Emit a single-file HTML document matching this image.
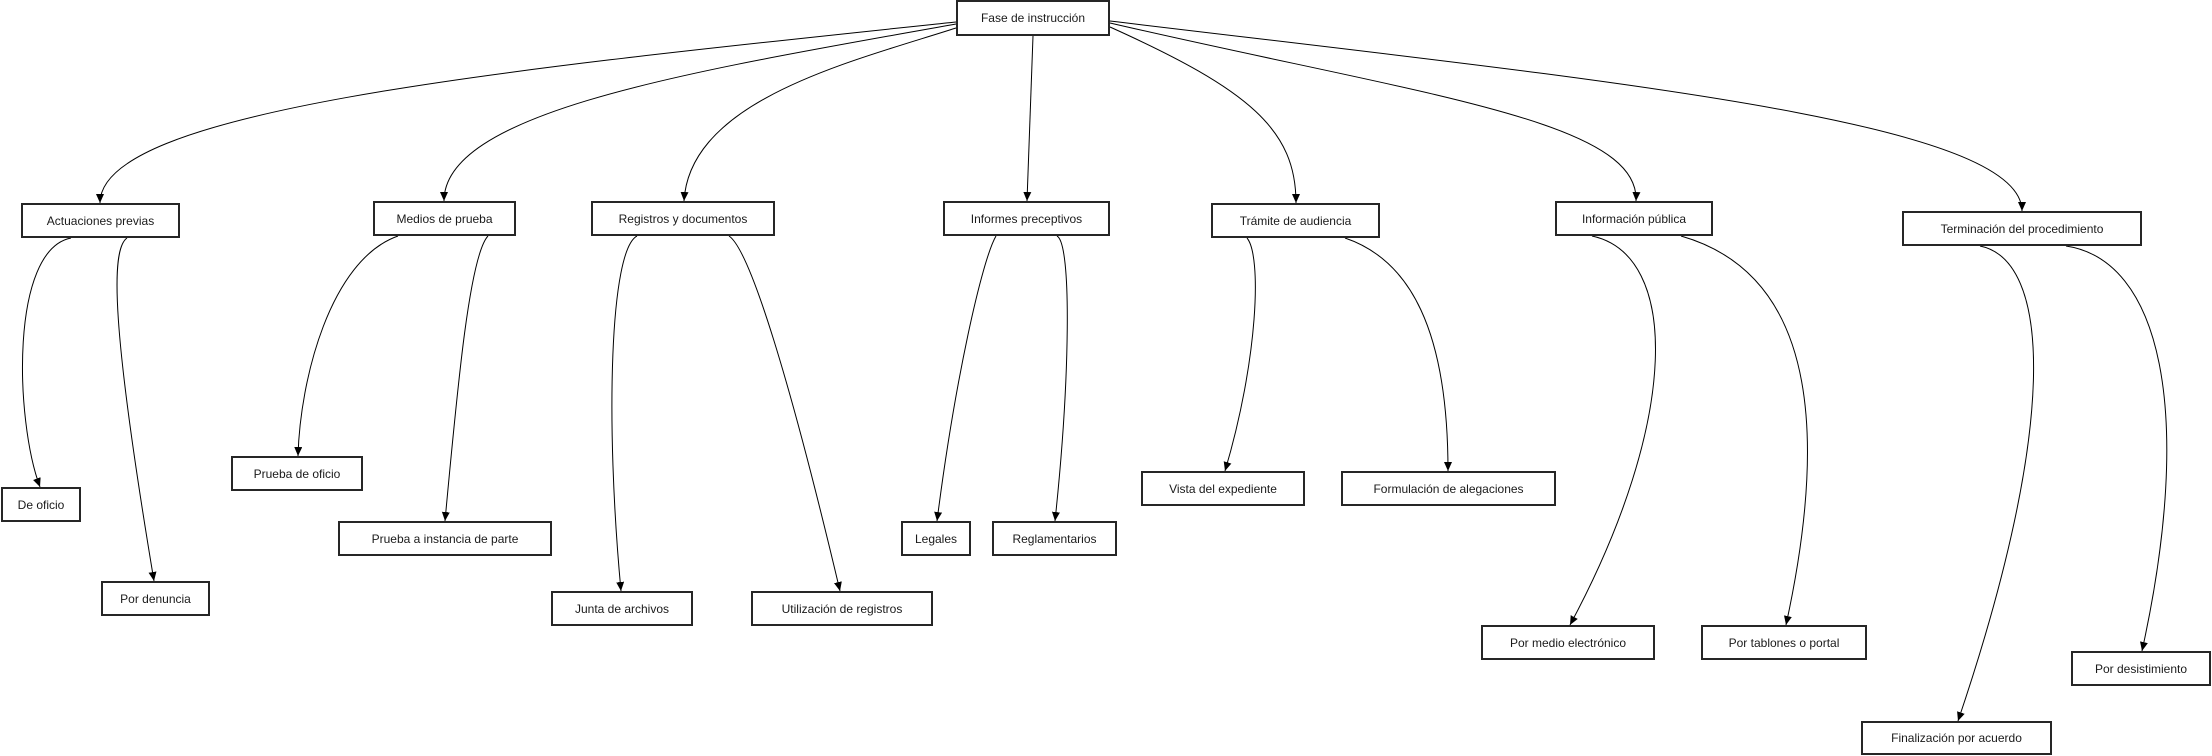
<!DOCTYPE html>
<html>
<head>
<meta charset="utf-8">
<style>
  html, body { margin: 0; padding: 0; background: #ffffff; }
  body { width: 2212px; height: 756px; overflow: hidden; }
  svg { display: block; }
  text { font-family: "Liberation Sans", Arial, sans-serif; font-size: 12px; fill: #1a1a1a; }
  .box { fill: #ffffff; stroke: #262626; stroke-width: 2; }
  .edge { fill: none; stroke: #000000; stroke-width: 1; }
</style>
</head>
<body>
<svg width="2212" height="756" viewBox="0 0 2212 756" xmlns="http://www.w3.org/2000/svg">
  <defs>
    <marker id="arr" markerUnits="userSpaceOnUse" markerWidth="10" markerHeight="10" refX="9" refY="4" orient="auto">
      <path d="M0,0 L9,4 L0,8 z" fill="#000"/>
    </marker>
  </defs>

  <!-- Top-level edges -->
  <path class="edge" marker-end="url(#arr)" d="M956,22 C500,70 100,110 100,203"/>
  <path class="edge" marker-end="url(#arr)" d="M956,24 C700,70 444,110 444,201"/>
  <path class="edge" marker-end="url(#arr)" d="M956,28 C850,62 690,100 684,201"/>
  <path class="edge" marker-end="url(#arr)" d="M1033,36 L1027,201"/>
  <path class="edge" marker-end="url(#arr)" d="M1110,27 C1250,90 1296,130 1296,203"/>
  <path class="edge" marker-end="url(#arr)" d="M1110,23 C1420,95 1640,120 1636,201"/>
  <path class="edge" marker-end="url(#arr)" d="M1110,21 C1600,80 2022,120 2022,211"/>

  <!-- Child edges -->
  <path class="edge" marker-end="url(#arr)" d="M71,238 C10,250 15,420 40,487"/>
  <path class="edge" marker-end="url(#arr)" d="M127,238 C110,250 112,330 154,581"/>
  <path class="edge" marker-end="url(#arr)" d="M398,236 C330,260 300,380 298,456"/>
  <path class="edge" marker-end="url(#arr)" d="M488,236 C470,255 458,380 445,521"/>
  <path class="edge" marker-end="url(#arr)" d="M637,236 C610,250 605,420 621,591"/>
  <path class="edge" marker-end="url(#arr)" d="M729,236 C750,250 790,380 840,591"/>
  <path class="edge" marker-end="url(#arr)" d="M996,236 C982,260 955,380 937,521"/>
  <path class="edge" marker-end="url(#arr)" d="M1057,236 C1072,244 1070,380 1055,521"/>
  <path class="edge" marker-end="url(#arr)" d="M1247,238 C1262,256 1258,360 1225,471"/>
  <path class="edge" marker-end="url(#arr)" d="M1345,238 C1410,260 1448,330 1448,471"/>
  <path class="edge" marker-end="url(#arr)" d="M1592,236 C1680,255 1680,420 1570,625"/>
  <path class="edge" marker-end="url(#arr)" d="M1681,236 C1800,270 1835,400 1786,625"/>
  <path class="edge" marker-end="url(#arr)" d="M1980,246 C2050,260 2060,420 1958,721"/>
  <path class="edge" marker-end="url(#arr)" d="M2066,246 C2160,260 2195,410 2142,651"/>

  <!-- Nodes -->
  <rect class="box" x="957" y="1" width="152" height="34"/>
  <text x="1033" y="22" text-anchor="middle">Fase de instrucción</text>

  <rect class="box" x="22" y="204" width="157" height="33"/>
  <text x="100.5" y="225" text-anchor="middle">Actuaciones previas</text>

  <rect class="box" x="374" y="202" width="141" height="33"/>
  <text x="444.5" y="223" text-anchor="middle">Medios de prueba</text>

  <rect class="box" x="592" y="202" width="182" height="33"/>
  <text x="683" y="223" text-anchor="middle">Registros y documentos</text>

  <rect class="box" x="944" y="202" width="165" height="33"/>
  <text x="1026.5" y="223" text-anchor="middle">Informes preceptivos</text>

  <rect class="box" x="1212" y="204" width="167" height="33"/>
  <text x="1295.5" y="225" text-anchor="middle">Trámite de audiencia</text>

  <rect class="box" x="1556" y="202" width="156" height="33"/>
  <text x="1634" y="223" text-anchor="middle">Información pública</text>

  <rect class="box" x="1903" y="212" width="238" height="33"/>
  <text x="2022" y="233" text-anchor="middle">Terminación del procedimiento</text>

  <rect class="box" x="2" y="488" width="78" height="33"/>
  <text x="41" y="509" text-anchor="middle">De oficio</text>

  <rect class="box" x="102" y="582" width="107" height="33"/>
  <text x="155.5" y="603" text-anchor="middle">Por denuncia</text>

  <rect class="box" x="232" y="457" width="130" height="33"/>
  <text x="297" y="478" text-anchor="middle">Prueba de oficio</text>

  <rect class="box" x="339" y="522" width="212" height="33"/>
  <text x="445" y="543" text-anchor="middle">Prueba a instancia de parte</text>

  <rect class="box" x="552" y="592" width="140" height="33"/>
  <text x="622" y="613" text-anchor="middle">Junta de archivos</text>

  <rect class="box" x="752" y="592" width="180" height="33"/>
  <text x="842" y="613" text-anchor="middle">Utilización de registros</text>

  <rect class="box" x="902" y="522" width="68" height="33"/>
  <text x="936" y="543" text-anchor="middle">Legales</text>

  <rect class="box" x="993" y="522" width="123" height="33"/>
  <text x="1054.5" y="543" text-anchor="middle">Reglamentarios</text>

  <rect class="box" x="1142" y="472" width="162" height="33"/>
  <text x="1223" y="493" text-anchor="middle">Vista del expediente</text>

  <rect class="box" x="1342" y="472" width="213" height="33"/>
  <text x="1448.5" y="493" text-anchor="middle">Formulación de alegaciones</text>

  <rect class="box" x="1482" y="626" width="172" height="33"/>
  <text x="1568" y="647" text-anchor="middle">Por medio electrónico</text>

  <rect class="box" x="1702" y="626" width="164" height="33"/>
  <text x="1784" y="647" text-anchor="middle">Por tablones o portal</text>

  <rect class="box" x="1862" y="722" width="189" height="32"/>
  <text x="1956.5" y="742" text-anchor="middle">Finalización por acuerdo</text>

  <rect class="box" x="2072" y="652" width="138" height="33"/>
  <text x="2141" y="673" text-anchor="middle">Por desistimiento</text>
</svg>
</body>
</html>
